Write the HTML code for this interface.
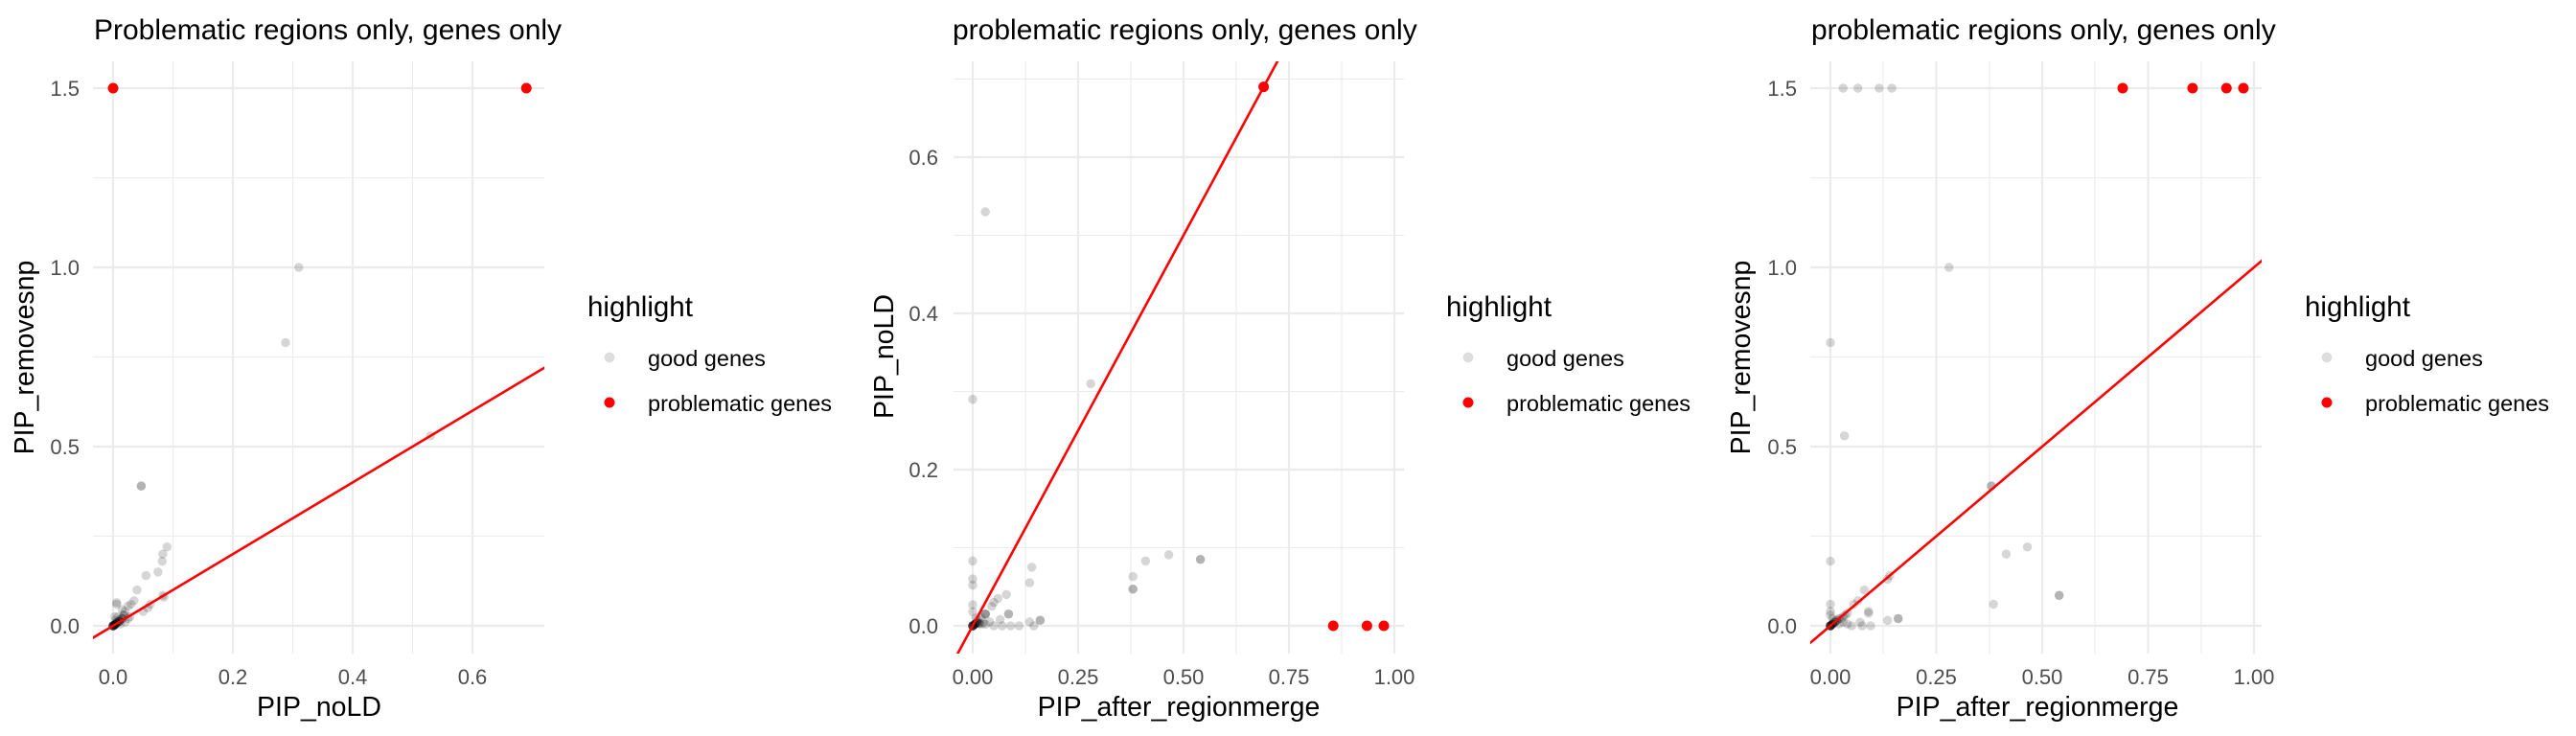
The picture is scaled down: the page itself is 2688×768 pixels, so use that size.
<!DOCTYPE html>
<html><head><meta charset="utf-8"><style>
html,body{margin:0;padding:0;background:#fff;width:2688px;height:768px;overflow:hidden}
svg{display:block}
text{font-family:"Liberation Sans",sans-serif}
.g path{vector-effect:non-scaling-stroke;stroke:#000;stroke-opacity:.16;stroke-width:9.5;stroke-linecap:round;fill:none}
.r path{vector-effect:non-scaling-stroke;stroke:#f00;stroke-width:11;stroke-linecap:round;fill:none}
.ln{vector-effect:non-scaling-stroke;stroke:#f00;stroke-width:2.6;fill:none}
.mj{stroke:#ebebeb;stroke-width:2.2}
.mn{stroke:#ebebeb;stroke-width:1.1}
.tk{font-size:22px;fill:#4d4d4d}
.ti{font-size:30px;fill:#000}
.ax{font-size:28.5px;fill:#000}
.lt{font-size:29.5px;fill:#000}
.ll{font-size:23.5px;fill:#000}
</style></head><body>
<svg width="2688" height="768" viewBox="0 0 2688 768" xmlns="http://www.w3.org/2000/svg">
<defs>
<clipPath id="c1"><rect x="97" y="64" width="471" height="618"/></clipPath>
<clipPath id="c2"><rect x="995" y="64" width="470" height="618"/></clipPath>
<clipPath id="c3"><rect x="1889" y="64" width="471" height="618"/></clipPath>
</defs>

<!-- ================= PANEL 1 ================= -->
<g>
<line class="mn" x1="97" x2="568" y1="559.5" y2="559.5"/>
<line class="mn" x1="97" x2="568" y1="372.5" y2="372.5"/>
<line class="mn" x1="97" x2="568" y1="185.5" y2="185.5"/>
<line class="mn" x1="180.5" x2="180.5" y1="64" y2="682"/>
<line class="mn" x1="305.5" x2="305.5" y1="64" y2="682"/>
<line class="mn" x1="430.5" x2="430.5" y1="64" y2="682"/>
<line class="mj" x1="97" x2="568" y1="653" y2="653"/>
<line class="mj" x1="97" x2="568" y1="466" y2="466"/>
<line class="mj" x1="97" x2="568" y1="279" y2="279"/>
<line class="mj" x1="97" x2="568" y1="92" y2="92"/>
<line class="mj" x1="118" x2="118" y1="64" y2="682"/>
<line class="mj" x1="243" x2="243" y1="64" y2="682"/>
<line class="mj" x1="368" x2="368" y1="64" y2="682"/>
<line class="mj" x1="493" x2="493" y1="64" y2="682"/>
<g clip-path="url(#c1)"><g transform="translate(118 653) scale(625 -374)">
<g class="g">
<path d="M.31 1h0"/><path d="M.288 .79h0"/><path d="M.53 .53h0"/><path d="M.047 .39h0"/><path d="M.047 .39h0"/>
<path d="M.09 .22h0"/><path d="M.083 .2h0"/><path d="M.082 .18h0"/><path d="M.075 .15h0"/><path d="M.055 .14h0"/>
<path d="M.04 .1h0"/><path d="M.035 .07h0"/><path d="M.006 .06h0"/><path d="M.006 .065h0"/><path d="M.03 .06h0"/><path d="M.062 .06h0"/>
<path d="M.058 .05h0"/><path d="M.085 .08h0"/><path d="M.083 .085h0"/><path d="M.05 .04h0"/><path d="M.025 .055h0"/><path d="M.02 .04h0"/>
<path d="M.028 .025h0"/><path d="M.015 .045h0"/><path d="M.003 .025h0"/><path d="M.01 .015h0"/>
<path d="M0 0h0"/><path d="M0 0h0"/><path d="M0 0h0"/><path d="M0 0h0"/><path d="M0 0h0"/><path d="M0 0h0"/><path d="M0 0h0"/><path d="M0 0h0"/>
<path d="M.003 .003h0"/><path d="M.003 .003h0"/><path d="M.003 .003h0"/><path d="M.003 .003h0"/><path d="M.003 .003h0"/>
<path d="M.006 .008h0"/><path d="M.006 .008h0"/><path d="M.006 .008h0"/><path d="M.006 .008h0"/>
<path d="M.01 .012h0"/><path d="M.01 .012h0"/><path d="M.01 .012h0"/>
<path d="M.015 .02h0"/><path d="M.015 .02h0"/><path d="M.015 .02h0"/><path d="M.018 .03h0"/><path d="M.018 .03h0"/>
<path d="M.004 .015h0"/><path d="M.008 .025h0"/><path d="M.012 .005h0"/><path d="M.02 .01h0"/><path d="M.025 .02h0"/>
</g>
<g class="r"><path d="M0 1.5h0"/><path d="M.69 1.5h0"/></g>
<path class="ln" d="M-.1 -.1L1 1"/>
</g></g>
<text class="ti" x="98" y="41">Problematic regions only, genes only</text>
<g class="tk" text-anchor="end">
<text x="83" y="661">0.0</text><text x="83" y="474">0.5</text><text x="83" y="287">1.0</text><text x="83" y="100">1.5</text>
</g>
<g class="tk" text-anchor="middle">
<text x="118" y="714">0.0</text><text x="243" y="714">0.2</text><text x="368" y="714">0.4</text><text x="493" y="714">0.6</text>
</g>
<text class="ax" x="333" y="747" text-anchor="middle">PIP_noLD</text>
<text class="ax" transform="translate(35 373) rotate(-90)" text-anchor="middle">PIP_removesnp</text>
<text class="lt" x="613" y="330">highlight</text>
<circle cx="636" cy="373" r="5" fill="#000" fill-opacity=".13" stroke="#000" stroke-opacity=".06"/>
<circle cx="636" cy="420" r="5.5" fill="#f00"/>
<text class="ll" x="676" y="382">good genes</text>
<text class="ll" x="676" y="429">problematic genes</text>
</g>

<!-- ================= PANEL 2 ================= -->
<g>
<line class="mn" x1="995" x2="1465" y1="571.5" y2="571.5"/>
<line class="mn" x1="995" x2="1465" y1="408.5" y2="408.5"/>
<line class="mn" x1="995" x2="1465" y1="245.5" y2="245.5"/>
<line class="mn" x1="995" x2="1465" y1="82.5" y2="82.5"/>
<line class="mn" x1="1070" x2="1070" y1="64" y2="682"/>
<line class="mn" x1="1180" x2="1180" y1="64" y2="682"/>
<line class="mn" x1="1290" x2="1290" y1="64" y2="682"/>
<line class="mn" x1="1400" x2="1400" y1="64" y2="682"/>
<line class="mj" x1="995" x2="1465" y1="653" y2="653"/>
<line class="mj" x1="995" x2="1465" y1="490" y2="490"/>
<line class="mj" x1="995" x2="1465" y1="327" y2="327"/>
<line class="mj" x1="995" x2="1465" y1="164" y2="164"/>
<line class="mj" x1="1015" x2="1015" y1="64" y2="682"/>
<line class="mj" x1="1125" x2="1125" y1="64" y2="682"/>
<line class="mj" x1="1235" x2="1235" y1="64" y2="682"/>
<line class="mj" x1="1345" x2="1345" y1="64" y2="682"/>
<line class="mj" x1="1455" x2="1455" y1="64" y2="682"/>
<g clip-path="url(#c2)"><g transform="translate(1015 653) scale(440 -815)">
<g class="g">
<path d="M.03 .53h0"/><path d="M.28 .31h0"/><path d="M0 .29h0"/><path d="M0 .083h0"/><path d="M.14 .075h0"/>
<path d="M0 .06h0"/><path d="M0 .052h0"/><path d="M.135 .055h0"/><path d="M.38 .063h0"/><path d="M.41 .083h0"/>
<path d="M.465 .091h0"/><path d="M.54 .085h0"/><path d="M.54 .085h0"/><path d="M.38 .047h0"/><path d="M.38 .047h0"/>
<path d="M.08 .04h0"/><path d="M.06 .035h0"/><path d="M.05 .03h0"/><path d="M.045 .025h0"/><path d="M0 .027h0"/>
<path d="M.085 .015h0"/><path d="M.085 .015h0"/><path d="M.065 .008h0"/><path d="M.16 .007h0"/><path d="M.16 .007h0"/>
<path d="M.135 .005h0"/><path d="M.145 0h0"/><path d="M.11 0h0"/><path d="M.09 0h0"/><path d="M.07 0h0"/><path d="M.05 0h0"/>
<path d="M0 .018h0"/><path d="M.03 .015h0"/><path d="M.03 .015h0"/><path d="M.03 .015h0"/><path d="M.02 .01h0"/><path d="M.04 .005h0"/>
<path d="M0 0h0"/><path d="M0 0h0"/><path d="M0 0h0"/><path d="M0 0h0"/><path d="M0 0h0"/><path d="M0 0h0"/><path d="M0 0h0"/><path d="M0 0h0"/>
<path d="M.005 .002h0"/><path d="M.005 .002h0"/><path d="M.005 .002h0"/><path d="M.005 .002h0"/><path d="M.01 .004h0"/><path d="M.01 .004h0"/><path d="M.01 .004h0"/>
<path d="M.015 .003h0"/><path d="M.015 .003h0"/><path d="M.02 .002h0"/><path d="M.025 .004h0"/><path d="M.012 .008h0"/><path d="M.008 .01h0"/><path d="M.03 .002h0"/>
</g>
<g class="r"><path d="M.69 .69h0"/><path d="M.855 0h0"/><path d="M.935 0h0"/><path d="M.975 0h0"/></g>
<path class="ln" d="M-.1 -.1L1 1"/>
</g></g>
<text class="ti" x="994" y="41">problematic regions only, genes only</text>
<g class="tk" text-anchor="end">
<text x="979" y="661">0.0</text><text x="979" y="498">0.2</text><text x="979" y="335">0.4</text><text x="979" y="172">0.6</text>
</g>
<g class="tk" text-anchor="middle">
<text x="1015" y="714">0.00</text><text x="1125" y="714">0.25</text><text x="1235" y="714">0.50</text><text x="1345" y="714">0.75</text><text x="1455" y="714">1.00</text>
</g>
<text class="ax" x="1230" y="747" text-anchor="middle">PIP_after_regionmerge</text>
<text class="ax" transform="translate(932 372) rotate(-90)" text-anchor="middle">PIP_noLD</text>
<text class="lt" x="1509" y="330">highlight</text>
<circle cx="1532" cy="373" r="5" fill="#000" fill-opacity=".13" stroke="#000" stroke-opacity=".06"/>
<circle cx="1532" cy="420" r="5.5" fill="#f00"/>
<text class="ll" x="1572" y="382">good genes</text>
<text class="ll" x="1572" y="429">problematic genes</text>
</g>

<!-- ================= PANEL 3 ================= -->
<g>
<line class="mn" x1="1889" x2="2360" y1="559.5" y2="559.5"/>
<line class="mn" x1="1889" x2="2360" y1="372.5" y2="372.5"/>
<line class="mn" x1="1889" x2="2360" y1="185.5" y2="185.5"/>
<line class="mn" x1="1965" x2="1965" y1="64" y2="682"/>
<line class="mn" x1="2076" x2="2076" y1="64" y2="682"/>
<line class="mn" x1="2186" x2="2186" y1="64" y2="682"/>
<line class="mn" x1="2297" x2="2297" y1="64" y2="682"/>
<line class="mj" x1="1889" x2="2360" y1="653" y2="653"/>
<line class="mj" x1="1889" x2="2360" y1="466" y2="466"/>
<line class="mj" x1="1889" x2="2360" y1="279" y2="279"/>
<line class="mj" x1="1889" x2="2360" y1="92" y2="92"/>
<line class="mj" x1="1910" x2="1910" y1="64" y2="682"/>
<line class="mj" x1="2020.5" x2="2020.5" y1="64" y2="682"/>
<line class="mj" x1="2131" x2="2131" y1="64" y2="682"/>
<line class="mj" x1="2241.5" x2="2241.5" y1="64" y2="682"/>
<line class="mj" x1="2352" x2="2352" y1="64" y2="682"/>
<g clip-path="url(#c3)"><g transform="translate(1910 653) scale(442 -374)">
<g class="g">
<path d="M.03 1.5h0"/><path d="M.065 1.5h0"/><path d="M.115 1.5h0"/><path d="M.145 1.5h0"/><path d="M.28 1h0"/>
<path d="M0 .79h0"/><path d="M.033 .53h0"/><path d="M.38 .39h0"/><path d="M.38 .39h0"/><path d="M.465 .22h0"/><path d="M.415 .2h0"/>
<path d="M0 .18h0"/><path d="M.14 .14h0"/><path d="M.135 .13h0"/><path d="M.08 .1h0"/><path d="M.065 .07h0"/><path d="M.055 .06h0"/>
<path d="M0 .06h0"/><path d="M.385 .06h0"/><path d="M.54 .085h0"/><path d="M.54 .085h0"/><path d="M.09 .04h0"/><path d="M.09 .035h0"/>
<path d="M.16 .02h0"/><path d="M.16 .02h0"/><path d="M.135 .015h0"/><path d="M.095 0h0"/><path d="M.075 0h0"/><path d="M.07 .01h0"/><path d="M.05 0h0"/>
<path d="M0 .04h0"/><path d="M0 .03h0"/><path d="M.04 .035h0"/><path d="M.035 .03h0"/><path d="M.03 .01h0"/><path d="M.04 .005h0"/>
<path d="M0 0h0"/><path d="M0 0h0"/><path d="M0 0h0"/><path d="M0 0h0"/><path d="M0 0h0"/><path d="M0 0h0"/><path d="M0 0h0"/><path d="M0 0h0"/>
<path d="M.005 .005h0"/><path d="M.005 .005h0"/><path d="M.005 .005h0"/><path d="M.005 .005h0"/><path d="M.01 .01h0"/><path d="M.01 .01h0"/><path d="M.01 .01h0"/>
<path d="M.015 .015h0"/><path d="M.015 .015h0"/><path d="M.02 .02h0"/><path d="M.025 .02h0"/><path d="M.02 .005h0"/><path d="M.005 .02h0"/><path d="M.03 .025h0"/>
</g>
<g class="r"><path d="M.69 1.5h0"/><path d="M.855 1.5h0"/><path d="M.935 1.5h0"/><path d="M.975 1.5h0"/></g>
<path class="ln" d="M-.1 -.1L1.1 1.1"/>
</g></g>
<text class="ti" x="1890" y="41">problematic regions only, genes only</text>
<g class="tk" text-anchor="end">
<text x="1875" y="661">0.0</text><text x="1875" y="474">0.5</text><text x="1875" y="287">1.0</text><text x="1875" y="100">1.5</text>
</g>
<g class="tk" text-anchor="middle">
<text x="1910" y="714">0.00</text><text x="2020.5" y="714">0.25</text><text x="2131" y="714">0.50</text><text x="2241.5" y="714">0.75</text><text x="2352" y="714">1.00</text>
</g>
<text class="ax" x="2126" y="747" text-anchor="middle">PIP_after_regionmerge</text>
<text class="ax" transform="translate(1826 373) rotate(-90)" text-anchor="middle">PIP_removesnp</text>
<text class="lt" x="2405" y="330">highlight</text>
<circle cx="2428" cy="373" r="5" fill="#000" fill-opacity=".13" stroke="#000" stroke-opacity=".06"/>
<circle cx="2428" cy="420" r="5.5" fill="#f00"/>
<text class="ll" x="2468" y="382">good genes</text>
<text class="ll" x="2468" y="429">problematic genes</text>
</g>
</svg>
</body></html>
